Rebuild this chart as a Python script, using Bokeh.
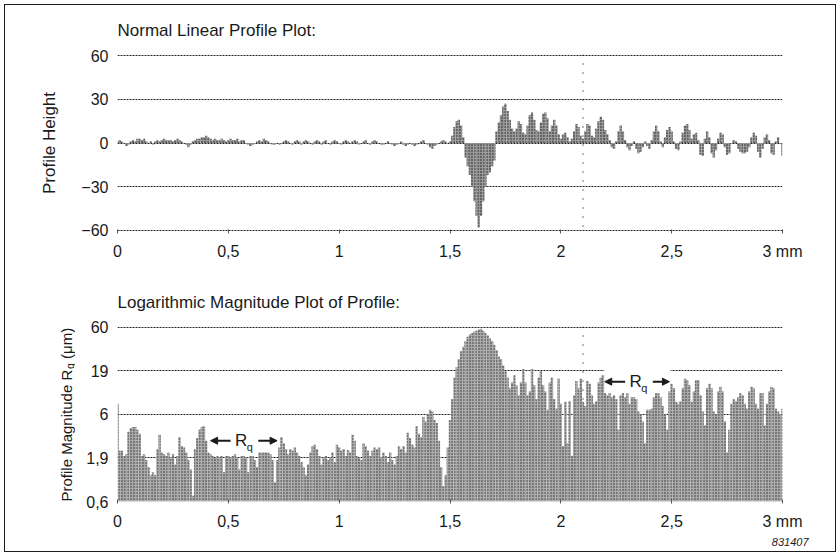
import numpy as np
from bokeh.plotting import figure
from bokeh.layouts import column, row
from bokeh.models import FixedTicker, Span, Label, Arrow, NormalHead, BoxAnnotation, Title
from bokeh.embed import file_html
from bokeh.resources import INLINE

# ---- data -----------------------------------------------------------------
# Sampling step along the trace (mm)
step = 0.01

# Profile height (µm) every 0.01 mm from 0 to 3 mm
profile_height = [
    1, 2, 1, 0, -2, -1, 1, 2, 1, 3,
    3, 2, 3, 1, 0, 1, -1, 1, 2, 1,
    2, 3, 2, 2, 2, 1, 2, 3, 2, 1,
    0, -1, -3, -1, 1, 2, 3, 3, 4, 4,
    5, 4, 3, 2, 3, 2, 2, 3, 2, 1,
    2, 3, 2, 2, 3, 1, 2, 2, 0, -1,
    -2, -1, 0, 1, 2, 1, 3, 2, 1, 0,
    -1, -1, 0, -1, 0, 1, 2, 1, 0, -1,
    1, 2, 1, -1, 1, 2, 1, 0, -1, 1,
    2, 1, -1, 1, 2, 0, -1, 1, 2, 1,
    0, -1, 1, 2, 1, 0, 1, 2, 1, -1,
    0, 1, 2, 0, -1, 1, 2, 1, 0, -1,
    -1, 0, 1, 0, -1, -2, -1, 0, 1, -1,
    -2, -1, 0, -1, -2, -1, 0, 1, 2, 0,
    -1, -3, -4, -2, -1, 0, 1, 2, 1, 0,
    1, 5, 11, 15, 16, 12, 4, -10, -16, -22,
    -30, -40, -50, -58, -50, -40, -30, -22, -20, -16,
    -12, 8, 14, 19, 25, 27, 22, 16, 10, 8,
    10, 15, 13, 7, 6, 12, 19, 21, 16, 9,
    8, 14, 20, 21, 17, 8, 12, 16, 12, 6,
    3, 6, 7, 4, 1, 3, 8, 13, 11, 5,
    3, 8, 13, 12, 5, 4, 10, 15, 18, 16,
    9, 6, 2, -3, -4, 1, 8, 12, 8, 2,
    -3, -5, -2, 1, -4, -7, -6, -3, 1, -2,
    -4, 2, 8, 12, 8, 1, -3, 4, 9, 11,
    8, 1, -4, -5, 1, 7, 12, 13, 9, 3,
    6, 7, 2, -8, -9, 3, 8, 4, -7, -10,
    -5, 3, 7, 6, -3, -8, -7, 0, 2, 1,
    -4, -6, -7, -7, -6, -3, 4, 7, 5, -6,
    -10, -4, 4, 6, 2, -7, -8, 1, 4, 0,
    -9,
]

# Profile magnitude Rq (µm) every 0.01 mm from 0 to 3 mm
profile_magnitude = [
    8.0, 2.3, 2.3, 2.0, 2.1, 3.8, 4.2, 4.3, 4.3, 4.0,
    3.6, 2.0, 2.1, 1.8, 1.5, 1.2, 1.3, 1.2, 2.4, 3.5,
    2.2, 2.1, 2.0, 2.2, 1.9, 2.1, 1.6, 2.0, 3.3, 2.6,
    2.5, 2.2, 1.8, 1.4, 0.7, 2.4, 3.2, 4.0, 4.3, 4.4,
    3.0, 2.2, 2.1, 2.0, 1.9, 2.0, 1.9, 2.0, 1.3, 2.0,
    2.0, 1.9, 2.0, 2.1, 1.9, 1.4, 2.0, 2.0, 1.9, 1.3,
    2.0, 2.0, 1.8, 1.5, 2.2, 2.2, 2.2, 2.2, 2.2, 2.1,
    1.8, 1.0, 1.8, 2.5, 3.3, 2.8, 2.4, 2.1, 2.4, 2.3,
    2.5, 2.2, 2.0, 1.7, 1.5, 1.2, 1.6, 2.2, 2.6, 2.7,
    2.4, 2.0, 1.6, 1.9, 2.0, 1.8, 1.9, 2.2, 1.7, 2.7,
    2.5, 2.3, 2.4, 2.0, 2.35, 2.2, 3.5, 3.0, 2.0, 1.9,
    1.8, 2.8, 2.6, 2.3, 2.0, 2.3, 2.5, 2.4, 2.5, 1.9,
    2.2, 2.0, 1.7, 2.2, 1.8, 1.6, 2.0, 2.6, 2.4, 2.6,
    2.2, 3.7, 3.2, 2.7, 2.5, 4.4, 3.6, 3.3, 5.6, 5.0,
    6.0, 6.8, 6.5, 5.2, 4.8, 3.0, 1.5, 0.9, 1.2, 2.5,
    5.2, 9, 16, 21, 26, 32, 36, 42, 47, 50,
    52, 54, 55, 57, 58, 55, 52, 49, 45, 42,
    38, 33, 28, 26, 22, 19, 16, 12, 14, 17,
    13, 10, 14, 20, 14, 10, 11, 20, 13, 9,
    16, 19, 13, 11, 6.8, 14, 16, 9, 7, 15.5,
    8, 2.6, 8.4, 2.8, 8.6, 2.0, 10, 14.6, 12, 15.5,
    8.4, 7.5, 14.6, 13.5, 10, 8, 8.5, 14, 16, 17,
    10.5, 10, 10.5, 9.5, 10, 9, 4.0, 10, 10.5, 9.5,
    10.5, 8, 9.5, 9.5, 9, 6.5, 6, 5, 2.8, 6.8,
    6.8, 7, 9.5, 10.5, 10.5, 9.5, 7.5, 6, 4.0, 11,
    13.5, 12, 8.4, 8, 8.5, 12, 15.5, 15, 13, 8.4,
    11, 15, 15, 10, 6.5, 4.5, 12, 13.5, 12, 6.5,
    6, 11, 12.5, 11, 5, 2.2, 4, 8, 9, 8.5,
    9.5, 10.5, 10, 8, 7, 11, 12.5, 12, 8, 7,
    10.5, 10.5, 4.5, 8, 11, 12.5, 12, 7, 6.5, 6,
    7,
]

x_ticks = [0, 0.5, 1, 1.5, 2, 2.5, 3]
x_tick_labels = ["0", "0,5", "1", "1,5", "2", "2,5", "3 mm"]
height_ticks = [-60, -30, 0, 30, 60]
height_tick_labels = ["\u221260", "\u221230", "0", "30", "60"]
magnitude_ticks = [0.6, 1.9, 6, 19, 60]
magnitude_tick_labels = ["0,6", "1,9", "6", "19", "60"]
marker_mm = 2.1

distance = np.round(np.arange(len(profile_height)) * step, 2)

FONT = "Liberation Sans"
INK = "#1a1a1a"
LABEL_STRIP = 70   # width of the strip holding the lower vertical axis title


def styled_figure(title, width, border_left, y_range, y_axis_type, y_ticks, y_labels,
                  border_top, border_bottom):
    p = figure(width=width, height=273, x_range=(0, 3), y_range=y_range,
               y_axis_type=y_axis_type, output_backend="svg", toolbar_location=None,
               min_border_left=border_left, min_border_right=53,
               min_border_top=border_top, min_border_bottom=border_bottom,
               outline_line_color=None, background_fill_color="white",
               border_fill_color="white")
    p.title.text = title
    p.title.align = "left"
    p.title.vertical_align = "middle"
    p.title.text_font = FONT
    p.title.text_font_size = "17px"
    p.title.text_font_style = "normal"
    p.title.text_color = INK
    p.title.standoff = border_top - 21

    xa = p.xaxis[0]
    xa.ticker = FixedTicker(ticks=x_ticks)
    xa.major_label_overrides = dict(zip(x_ticks, x_tick_labels))
    xa.axis_line_color = None
    xa.major_tick_line_color = "#555555"
    xa.major_tick_in = 2
    xa.major_tick_out = 2
    xa.minor_tick_line_color = None
    xa.major_label_standoff = 9
    xa.major_label_text_font = FONT
    xa.major_label_text_font_size = "16px"
    xa.major_label_text_color = INK

    ya = p.yaxis[0]
    ya.ticker = FixedTicker(ticks=y_ticks)
    ya.major_label_overrides = dict(zip(y_ticks, y_labels))
    ya.axis_line_color = None
    ya.major_tick_line_color = None
    ya.minor_tick_line_color = None
    ya.major_tick_in = 0
    ya.major_tick_out = 0
    ya.major_label_standoff = 9
    ya.major_label_text_font = FONT
    ya.major_label_text_font_size = "16px"
    ya.major_label_text_color = INK
    ya.axis_label_text_font = FONT
    ya.axis_label_text_font_size = "17px"
    ya.axis_label_text_font_style = "normal"
    ya.axis_label_text_color = INK
    ya.axis_label_standoff = 19

    p.xgrid.visible = False
    p.ygrid.ticker = FixedTicker(ticks=y_ticks)
    p.ygrid.grid_line_color = "#202020"
    p.ygrid.grid_line_dash = "2 1"
    p.ygrid.grid_line_width = 1

    p.add_layout(Span(location=marker_mm, dimension="height", line_color=INK,
                      line_dash="1 8", line_width=1.2, level="underlay"))
    return p


# ---- linear profile -------------------------------------------------------
p1 = styled_figure("Normal Linear Profile Plot:", 830, 112, (-60.7, 60.7), "linear",
                   height_ticks, height_tick_labels, 49, 47)
p1.yaxis[0].axis_label = "Profile Height"
p1.vbar(x=distance, width=step * 1.05, top=profile_height, bottom=0,
        fill_color="#949494", line_color=None,
        hatch_pattern="dot", hatch_color="#1a1a1a", hatch_scale=3, hatch_weight=1)

# ---- logarithmic magnitude ------------------------------------------------
p2 = styled_figure("Logarithmic Magnitude Plot of Profile:", 830 - LABEL_STRIP,
                   112 - LABEL_STRIP, (0.6, 61.6), "log",
                   magnitude_ticks, magnitude_tick_labels, 48, 50)
p2.vbar(x=distance, width=step * 1.05, top=profile_magnitude, bottom=0.6,
        fill_color="#a8a8a8", line_color=None,
        hatch_pattern="dot", hatch_color="#2a2a2a", hatch_scale=3, hatch_weight=1)

# gap in the 19 µm line where the right-hand Rq marker sits
p2.add_layout(BoxAnnotation(left=2.196, right=2.495, bottom=17.2, top=21,
                            fill_color="white", fill_alpha=1, line_color=None))


def rq_marker(p, x_left, x_r, x_right, y):
    head = dict(size=7, fill_color=INK, line_color=INK)
    p.add_layout(Arrow(end=NormalHead(**head), x_start=x_r - 0.02, y_start=y,
                       x_end=x_left, y_end=y, line_color=INK, line_width=2))
    p.add_layout(Label(x=x_r, y=y, text="R", text_font=FONT, text_font_size="17px",
                       text_color=INK, text_baseline="middle"))
    p.add_layout(Label(x=x_r + 0.053, y=y, y_offset=-6, text="q", text_font=FONT,
                       text_font_size="11px", text_color=INK, text_baseline="middle"))
    p.add_layout(Arrow(end=NormalHead(**head), x_start=x_r + 0.105, y_start=y,
                       x_end=x_right, y_end=y, line_color=INK, line_width=2))


rq_marker(p2, 0.42, 0.53, 0.72, 3.0)
rq_marker(p2, 2.198, 2.31, 2.49, 14.3)

# figure number under the lower plot
p2.add_layout(Title(text="831407", align="right", offset=-26, standoff=6,
                    text_font=FONT, text_font_size="11px", text_font_style="italic",
                    text_color=INK), "below")

# strip left of the lower plot carrying its vertical axis title (with subscript);
# its frame lines up with the lower plot's frame, 1 unit = 1 px
strip = figure(width=LABEL_STRIP, height=273, x_range=(0, LABEL_STRIP), y_range=(0, 175),
               output_backend="svg", toolbar_location=None, title=None,
               x_axis_location=None, y_axis_location=None, min_border=0,
               outline_line_color=None, background_fill_color="white",
               border_fill_color="white")
strip.grid.visible = False
ylab = dict(angle=np.pi / 2, text_font=FONT, text_color=INK,
            text_align="left", text_baseline="alphabetic")
strip.add_layout(Label(x=61, y=0, text="Profile Magnitude R", text_font_size="15px", **ylab))
strip.add_layout(Label(x=64.5, y=132.5, text="q", text_font_size="10.5px", **ylab))
strip.add_layout(Label(x=61, y=142.5, text="(\u03bcm)", text_font_size="15px", **ylab))

layout = column(p1, row(strip, p2), margin=(5, 0, 0, 5),
                styles={"outline": "1.5px solid #1a1a1a"})

with open("out.html", "w") as f:
    f.write(file_html(layout, INLINE))
